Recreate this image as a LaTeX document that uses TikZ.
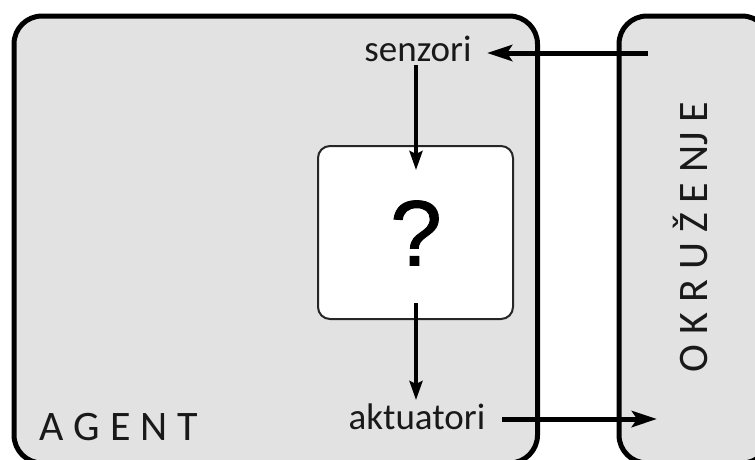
\documentclass[tikz,border=0pt]{standalone}
\usepackage{fontspec}
\setmainfont{Carlito}
\newfontfamily\qfont[FakeBold=1]{Liberation Sans}
\usetikzlibrary{arrows.meta}
\definecolor{panel}{HTML}{E2E2E2}
\tikzset{
  panelbox/.style={draw=black,fill=panel,line width=5pt,rounded corners=28pt},
  corebox/.style={draw=black!85,fill=white,line width=2pt,rounded corners=12pt},
  bigflow/.style={draw=black,line width=5pt,-{Stealth[length=25pt,width=16pt,inset=5pt]}},
  smallflow/.style={draw=black,line width=3.6pt,-{Stealth[length=19pt,width=13pt,inset=3pt]}},
  lbl/.style={font=\fontsize{37}{37}\selectfont,text=black!90,inner sep=0pt},
  spaced/.style={font=\fontsize{42}{42}\selectfont,text=black!90,inner sep=0pt}
}
\begin{document}
\begin{tikzpicture}[x=1pt,y=-1pt]
\useasboundingbox (0,0) rectangle (755,459);
\clip (0,0) rectangle (755,459);
\draw[panelbox] (14,16) rectangle (537.5,463);
\draw[panelbox] (619,16) rectangle (770,463);
\draw[corebox] (318,146) rectangle (513,319);
\node[inner sep=0pt,font=\qfont\fontsize{93}{93}\selectfont] (q) at (416,233) {?};
\node[lbl] (sen) at (418,49) {senzori};
\node[lbl] (akt) at (417,417) {aktuatori};
\node[spaced,anchor=west] (agent) at (39,427) {A\hspace{10pt}G\hspace{10pt}E\hspace{10pt}N\hspace{10pt}T};
\node[spaced,rotate=90] (env) at (690,237) {O\hspace{10pt}K\hspace{10pt}R\hspace{10pt}U\hspace{10pt}Ž\hspace{10pt}E\hspace{10pt}NJ\hspace{10pt}E};
\coordinate (envout) at (648,53);
\coordinate (envin) at (657,419);
\coordinate (senin) at (487,53);
\coordinate (aktout) at (502,419);
\coordinate (s1) at (416,65);
\coordinate (c1) at (416,170);
\coordinate (c2) at (416,303);
\coordinate (a1) at (416,400);
\draw[bigflow] (envout) -- (senin);
\draw[bigflow] (aktout) -- (envin);
\draw[smallflow] (s1) -- (c1);
\draw[smallflow] (c2) -- (a1);
\end{tikzpicture}
\end{document}
